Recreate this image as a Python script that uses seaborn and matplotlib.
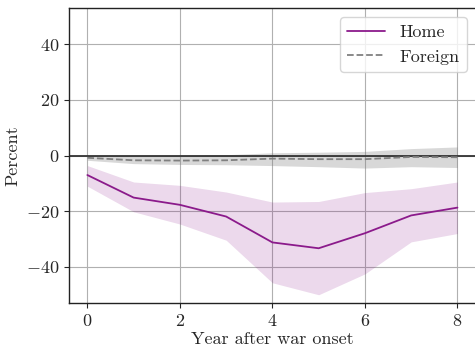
import numpy as np
import pandas as pd
import matplotlib
matplotlib.use("Agg")
import matplotlib.pyplot as plt
import seaborn as sns

# ---- data ----
years = [0, 1, 2, 3, 4, 5, 6, 7, 8]
home = [-7.0, -15.1, -17.7, -21.9, -31.2, -33.3, -27.9, -21.5, -18.7]
home_hi = [-3.6, -9.5, -10.7, -13.1, -16.7, -16.5, -13.3, -11.9, -9.5]
home_lo = [-11.0, -20.2, -24.6, -30.4, -45.7, -50.0, -42.5, -31.0, -28.0]
foreign = [-0.8, -1.7, -1.8, -1.7, -1.1, -1.3, -1.3, -0.5, -0.6]
foreign_hi = [-0.1, -0.2, 0.0, 0.3, 1.0, 1.2, 1.5, 2.5, 3.1]
foreign_lo = [-1.7, -2.9, -3.2, -3.3, -3.6, -4.0, -4.5, -4.0, -4.3]

sns.set_style("ticks")
plt.rcParams['font.family'] = ['cmr10', 'DejaVu Serif']
plt.rcParams['mathtext.fontset'] = 'cm'
plt.rcParams['axes.formatter.use_mathtext'] = True
plt.rcParams['axes.unicode_minus'] = True
plt.rcParams['font.size'] = 13

df = pd.DataFrame({'year': years, 'Home': home, 'Foreign': foreign})

fig, ax = plt.subplots(figsize=(4.75, 3.48), dpi=100)
fig.subplots_adjust(left=0.145, right=1.002, top=0.977, bottom=0.129)

ax.grid(True, color='#b0b0b0', linewidth=0.8)
ax.set_axisbelow(True)

# confidence bands
ax.fill_between(years, home_lo, home_hi, color='#800080', alpha=0.15, linewidth=0)
ax.fill_between(years, foreign_lo, foreign_hi, color='grey', alpha=0.3, linewidth=0)
ax.axhline(0, color='#333333', linewidth=1.3)

sns.lineplot(data=df, x='year', y='Home', color='#8b1a8b', linewidth=1.3, label='Home', ax=ax)
sns.lineplot(data=df, x='year', y='Foreign', color='grey', linewidth=1.3, linestyle='--', label='Foreign', ax=ax)

ax.set_xlim(-0.4, 8.4)
ax.set_ylim(-53, 53)
ax.set_xticks([0, 2, 4, 6, 8])
ax.set_yticks([-40, -20, 0, 20, 40])
ax.set_xlabel('Year after war onset', labelpad=2)
ax.set_ylabel('Percent', labelpad=4)
for s in ax.spines.values():
    s.set_color('#222222')
    s.set_linewidth(1.0)

ax.legend(loc='upper right', frameon=True, framealpha=0.8, edgecolor='#cccccc', handlelength=2.1)

fig.savefig('out.png', dpi=100)
